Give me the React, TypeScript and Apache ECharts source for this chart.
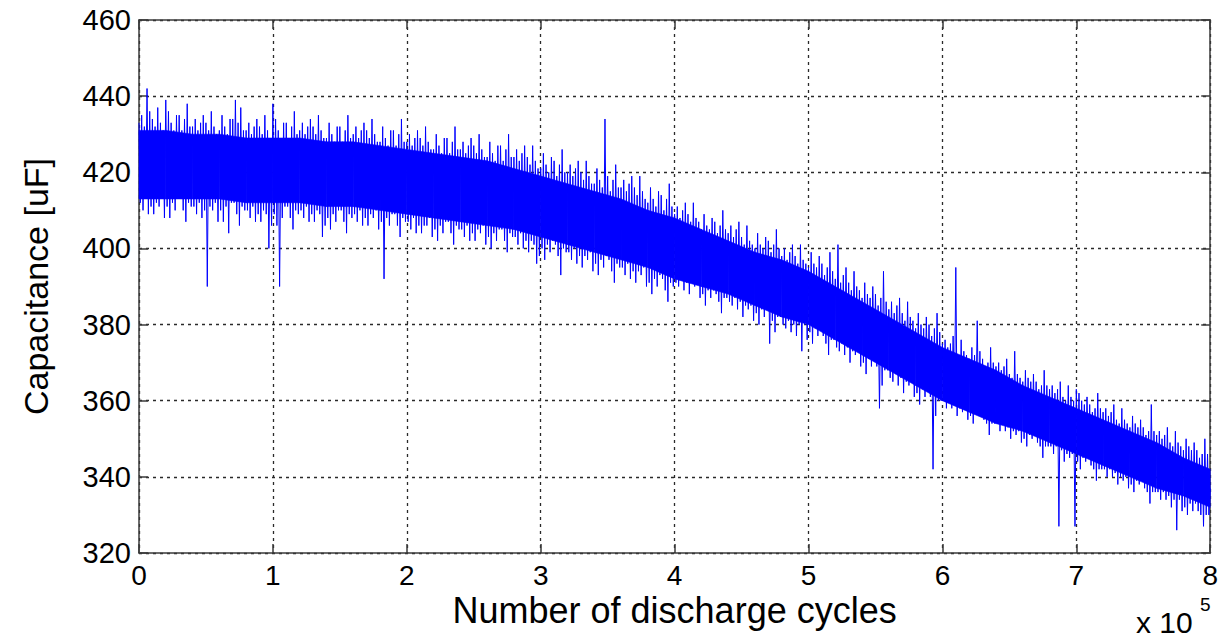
import React, { useEffect, useRef } from "react";
import * as echarts from "echarts";

// Capacitance readings (uF), one every 1000 discharge cycles (trace alternates high / low excursions)
const cap0 = [
  433, 412, 435, 410, 432, 413, 442, 409, 436, 411,
  434, 409, 432, 412, 437, 411, 433, 413, 431, 408,
  439, 411, 436, 408, 433, 412, 431, 410, 435, 413,
  435, 413, 431, 410, 434, 407, 438, 412, 432, 411,
  432, 411, 434, 409, 431, 412, 433, 408, 435, 410,
  433, 390, 431, 411, 436, 410, 432, 412, 430, 407,
  431, 410, 435, 407, 432, 411, 430, 404, 434, 412,
  434, 412, 439, 409, 433, 406, 437, 411, 431, 410,
  431, 410, 433, 408, 430, 411, 432, 407, 434, 409,
  432, 407, 430, 410, 435, 409, 431, 400, 429, 406,
];
const cap1 = [
  438, 409, 434, 406, 431, 390, 429, 408, 433, 411,
  433, 411, 429, 408, 432, 405, 436, 410, 430, 409,
  431, 410, 433, 408, 430, 411, 432, 407, 434, 409,
  432, 407, 430, 410, 435, 409, 431, 403, 429, 406,
  429, 408, 433, 405, 430, 409, 428, 407, 432, 410,
  432, 410, 428, 407, 431, 404, 435, 409, 429, 408,
  430, 409, 432, 407, 429, 410, 431, 406, 433, 408,
  431, 406, 429, 409, 434, 408, 430, 410, 428, 405,
  428, 407, 432, 392, 429, 408, 427, 406, 431, 409,
  431, 409, 427, 406, 430, 403, 434, 408, 428, 407,
];
const cap2 = [
  428, 407, 430, 405, 427, 408, 429, 404, 431, 406,
  429, 404, 427, 406, 432, 406, 428, 408, 426, 403,
  426, 405, 430, 402, 427, 406, 425, 404, 429, 407,
  429, 407, 425, 404, 428, 401, 432, 406, 426, 405,
  426, 405, 428, 403, 425, 406, 427, 402, 429, 404,
  427, 402, 425, 405, 430, 404, 426, 406, 424, 401,
  424, 403, 428, 400, 425, 404, 423, 402, 427, 405,
  427, 405, 423, 402, 426, 399, 430, 404, 424, 403,
  424, 403, 426, 401, 423, 404, 425, 400, 427, 402,
  424, 399, 422, 402, 427, 401, 423, 396, 421, 398,
];
const cap3 = [
  421, 400, 425, 397, 422, 401, 420, 399, 424, 402,
  423, 401, 419, 398, 422, 393, 426, 400, 420, 399,
  420, 399, 422, 397, 419, 400, 421, 396, 423, 398,
  420, 395, 418, 398, 423, 397, 419, 399, 417, 394,
  417, 396, 421, 393, 418, 397, 416, 395, 434, 398,
  419, 397, 415, 394, 418, 391, 422, 396, 416, 395,
  416, 395, 418, 393, 415, 396, 417, 392, 419, 394,
  416, 391, 414, 394, 419, 393, 415, 395, 413, 390,
  412, 391, 416, 388, 413, 392, 411, 390, 415, 393,
  414, 392, 410, 389, 413, 386, 417, 391, 411, 390,
];
const cap4 = [
  409, 391, 411, 390, 408, 392, 410, 389, 412, 391,
  409, 388, 407, 391, 412, 390, 408, 391, 407, 387,
  405, 388, 409, 385, 406, 389, 405, 387, 408, 389,
  407, 388, 404, 386, 406, 383, 410, 387, 405, 387,
  404, 386, 406, 385, 403, 387, 405, 384, 407, 386,
  403, 382, 401, 385, 406, 384, 402, 385, 401, 381,
  400, 383, 404, 380, 401, 384, 400, 382, 403, 384,
  402, 375, 399, 381, 401, 378, 405, 382, 400, 382,
  398, 380, 400, 379, 397, 381, 399, 378, 401, 380,
  398, 377, 396, 380, 401, 373, 397, 380, 396, 376,
];
const cap5 = [
  395, 378, 399, 375, 396, 379, 395, 377, 398, 379,
  396, 377, 393, 375, 395, 372, 399, 376, 394, 376,
  392, 374, 401, 373, 391, 375, 393, 372, 395, 374,
  391, 370, 389, 373, 394, 372, 390, 373, 389, 369,
  387, 370, 391, 367, 388, 371, 387, 369, 390, 371,
  388, 369, 385, 358, 387, 364, 394, 368, 386, 368,
  384, 366, 386, 365, 383, 367, 385, 364, 387, 366,
  383, 362, 381, 365, 386, 364, 382, 365, 381, 361,
  379, 362, 383, 359, 380, 363, 379, 361, 382, 363,
  380, 361, 377, 342, 379, 356, 383, 360, 378, 360,
];
const cap6 = [
  375, 360, 376, 358, 374, 360, 375, 358, 377, 359,
  395, 356, 372, 358, 376, 357, 373, 358, 372, 355,
  371, 356, 374, 354, 372, 357, 381, 356, 373, 357,
  371, 355, 369, 354, 370, 351, 374, 354, 370, 354,
  369, 354, 370, 352, 368, 354, 369, 352, 371, 353,
  367, 350, 366, 352, 373, 351, 367, 352, 366, 349,
  365, 350, 368, 348, 366, 351, 365, 350, 367, 351,
  365, 349, 363, 348, 364, 345, 368, 348, 364, 348,
  363, 348, 364, 346, 362, 348, 363, 327, 365, 347,
  361, 344, 360, 346, 364, 345, 361, 346, 360, 327,
];
const cap7 = [
  363, 344, 362, 342, 360, 345, 359, 344, 361, 345,
  359, 343, 357, 342, 358, 339, 362, 342, 358, 342,
  357, 342, 358, 340, 356, 342, 357, 340, 359, 341,
  355, 338, 354, 340, 358, 339, 355, 340, 354, 337,
  353, 338, 356, 336, 354, 339, 353, 338, 355, 339,
  353, 337, 351, 336, 352, 333, 359, 336, 352, 336,
  351, 336, 352, 334, 350, 336, 351, 334, 353, 335,
  349, 332, 348, 334, 352, 326, 349, 334, 348, 331,
  347, 332, 350, 330, 348, 333, 347, 331, 349, 333,
  347, 331, 345, 330, 346, 327, 350, 330, 346, 330,
  337,
];
const SAMPLE_STEP = 1000;

// Solid core of the noisy trace, every 20000 cycles
const coreLow = [
  413, 413, 413, 413, 412, 412, 412, 411, 411, 410,
  409, 408, 407, 406, 405, 403, 401, 399, 397, 395,
  392, 390, 388, 385, 382, 380, 376, 372, 368, 364,
  360, 357, 354, 352, 349, 346, 343, 340, 337, 335,
  332,
];
const coreHigh = [
  431, 431, 430, 430, 429, 429, 429, 428, 428, 427,
  426, 425, 424, 423, 421, 419, 417, 415, 413, 410,
  408, 405, 402, 399, 397, 394, 390, 386, 382, 378,
  374, 371, 368, 364, 361, 358, 355, 352, 349, 345,
  342,
];
const CORE_STEP = 20000;

const xTicks = { min: 0, max: 800000, interval: 100000, scale: 100000 };
const yTicks = { min: 320, max: 460, interval: 20 };

const FONT = "'Liberation Sans', Arial, Helvetica, sans-serif";
const BLUE = "#0000ff";

export default function App() {
  const ref = useRef<HTMLDivElement>(null);

  useEffect(() => {
    if (!ref.current) return;
    const chart = echarts.init(ref.current, null, { renderer: "svg" });

    const trace = [...cap0, ...cap1, ...cap2, ...cap3, ...cap4, ...cap5, ...cap6, ...cap7].map(
      (v, i) => [i * SAMPLE_STEP, v]
    );
    // each item: one quad of the core band between two consecutive samples
    const coreQuads = coreLow.slice(0, -1).map((lo, i) => [
      i * CORE_STEP,
      lo,
      coreHigh[i],
      (i + 1) * CORE_STEP,
      coreLow[i + 1],
      coreHigh[i + 1],
    ]);

    const axisLineStyle = { color: "#3a3a3a", width: 1.5 };
    const gridDash = { color: "#2a2a2a", width: 1.3, type: [3, 4] as any };

    chart.setOption({
      animation: false,
      backgroundColor: "#ffffff",
      grid: { left: 139, right: 10, top: 20, bottom: 87 },
      xAxis: [
        {
          type: "value",
          min: xTicks.min,
          max: xTicks.max,
          interval: xTicks.interval,
          position: "bottom",
          name: "Number of discharge cycles",
          nameLocation: "middle",
          nameGap: 39,
          nameMoveOverlap: false,
          nameTextStyle: { fontFamily: FONT, fontSize: 36, color: "#000" },
          axisLine: { show: true, onZero: false, lineStyle: axisLineStyle },
          axisTick: { show: true, inside: true, length: 9, lineStyle: axisLineStyle },
          axisLabel: {
            fontFamily: FONT,
            fontSize: 28,
            color: "#000",
            margin: 8,
            formatter: (v: number) => String(Math.round(v / xTicks.scale)),
          },
          splitLine: { show: true, lineStyle: gridDash },
        },
        {
          type: "value",
          min: xTicks.min,
          max: xTicks.max,
          interval: xTicks.interval,
          position: "top",
          axisLine: { show: true, onZero: false, lineStyle: axisLineStyle },
          axisTick: { show: true, inside: true, length: 9, lineStyle: axisLineStyle },
          axisLabel: { show: false },
          splitLine: { show: false },
        },
      ],
      yAxis: [
        {
          type: "value",
          min: yTicks.min,
          max: yTicks.max,
          interval: yTicks.interval,
          position: "left",
          name: "Capacitance [uF]",
          nameLocation: "middle",
          nameGap: 86,
          nameMoveOverlap: false,
          nameTextStyle: { fontFamily: FONT, fontSize: 34, color: "#000" },
          axisLine: { show: true, onZero: false, lineStyle: axisLineStyle },
          axisTick: { show: true, inside: true, length: 9, lineStyle: axisLineStyle },
          axisLabel: { fontFamily: FONT, fontSize: 29, color: "#000", margin: 8 },
          splitLine: { show: true, lineStyle: gridDash },
        },
        {
          type: "value",
          min: yTicks.min,
          max: yTicks.max,
          interval: yTicks.interval,
          position: "right",
          axisLine: { show: true, onZero: false, lineStyle: axisLineStyle },
          axisTick: { show: true, inside: true, length: 9, lineStyle: axisLineStyle },
          axisLabel: { show: false },
          splitLine: { show: false },
        },
      ],
      series: [
        {
          type: "custom",
          name: "core",
          data: coreQuads,
          silent: true,
          z: 2,
          renderItem: (params: any, api: any) => {
            const p0l = api.coord([api.value(0), api.value(1)]);
            const p0h = api.coord([api.value(0), api.value(2)]);
            const p1l = api.coord([api.value(3), api.value(4)]);
            const p1h = api.coord([api.value(3), api.value(5)]);
            return {
              type: "polygon",
              shape: { points: [p0l, p1l, p1h, p0h] },
              style: { fill: BLUE, stroke: BLUE, lineWidth: 0.6 },
            };
          },
        },
        {
          type: "line",
          name: "Capacitance",
          data: trace,
          symbol: "none",
          lineStyle: { color: BLUE, width: 1 },
          z: 3,
        },
      ],
      graphic: [
        {
          type: "text",
          left: 1136,
          top: 607,
          style: { text: "x 10", font: `30px ${FONT}`, fill: "#000" },
        },
        {
          type: "text",
          left: 1200,
          top: 595,
          style: { text: "5", font: `19px ${FONT}`, fill: "#000" },
        },
      ],
    });

    return () => chart.dispose();
  }, []);

  return (
    <div
      ref={ref}
      style={{ position: "fixed", left: 0, top: 0, width: 1221, height: 640, background: "#fff" }}
    />
  );
}
